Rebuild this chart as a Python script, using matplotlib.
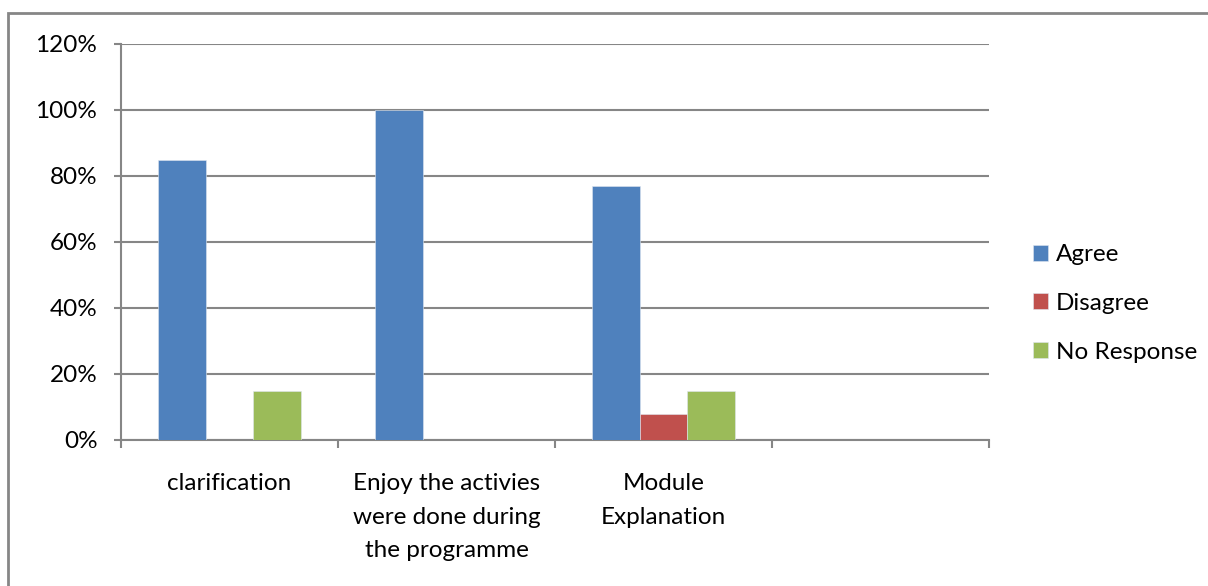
import numpy as np
import matplotlib.pyplot as plt
from matplotlib.patches import Rectangle

categories = ["clarification", "Enjoy the activies\nwere done during\nthe programme", "Module\nExplanation", ""]
series_names = ["Agree", "Disagree", "No Response"]
agree = [85, 100, 77, 0]
disagree = [0, 0, 8, 0]
no_response = [15, 0, 15, 0]
y_ticks = [0, 20, 40, 60, 80, 100, 120]

colors = ["#4F81BD", "#C0504D", "#9BBB59"]
grey = "#868686"
fs = 17.5

plt.rcParams["font.family"] = ["Lato", "DejaVu Sans"]

fig = plt.figure(figsize=(12.08, 5.86), dpi=100)
ax = fig.add_axes([121 / 1208, 1 - 440 / 586, 868 / 1208, 396 / 586])

# outer chart frame (right and bottom edges run off the picture)
fig.patches.append(Rectangle((8 / 1208, -0.1), 1.2, 1 - 13 / 586 + 0.1,
                             transform=fig.transFigure, fill=False,
                             edgecolor=grey, linewidth=2, zorder=0))

x = np.arange(len(categories))
w = 0.221
for i, vals in enumerate([agree, disagree, no_response]):
    ax.bar(x + (i - 1) * w, vals, width=w, color=colors[i], label=series_names[i],
           edgecolor="#dfe6f0", linewidth=0.4, zorder=3)

ax.set_xlim(-0.5, 3.5)
ax.set_ylim(0, 120)
ax.set_yticks(y_ticks)
ax.set_yticklabels([f"{v}%" for v in y_ticks], fontsize=fs)
ax.yaxis.grid(True, color=grey, linewidth=1.5, zorder=0)
ax.tick_params(axis="y", length=5, width=1.5, color=grey, pad=12)

ax.set_xticks(x)
ax.set_xticklabels(categories, fontsize=fs, linespacing=1.72)
ax.set_xticks(np.arange(-0.5, 4.0, 1.0), minor=True)
ax.tick_params(axis="x", which="major", length=0, pad=24)
ax.tick_params(axis="x", which="minor", length=6, width=1.5, color=grey)

for s in ["top", "right"]:
    ax.spines[s].set_visible(False)
for s in ["left", "bottom"]:
    ax.spines[s].set_color(grey)
    ax.spines[s].set_linewidth(1.5)

ax.legend(loc="center left", bbox_to_anchor=(1.025, 0.345), frameon=False,
          fontsize=fs, handlelength=0.65, handleheight=0.65, handletextpad=0.3,
          labelspacing=1.14)

fig.savefig("out.png", dpi=100)
